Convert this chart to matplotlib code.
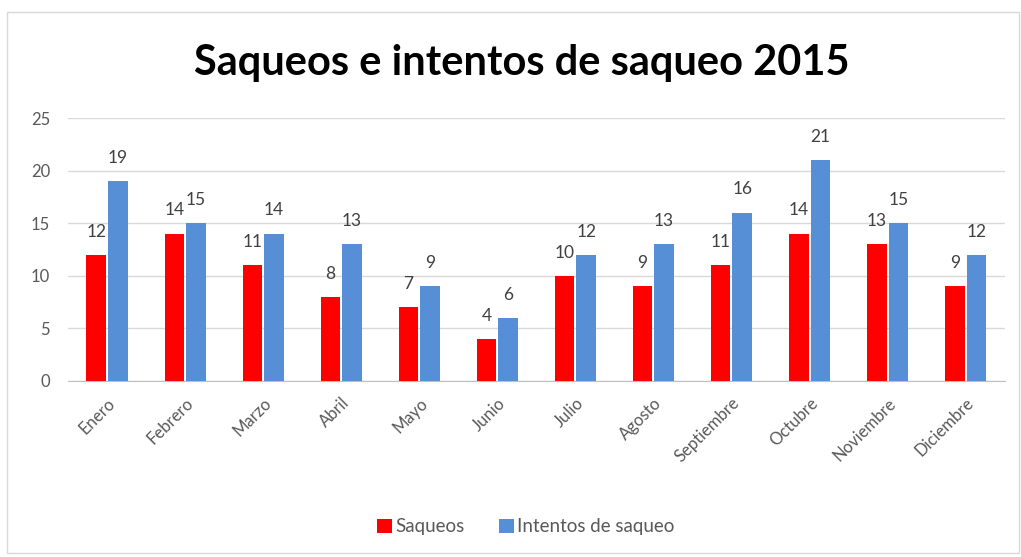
import numpy as np
from matplotlib import pyplot as plt
from matplotlib.patches import Rectangle

meses = ['Enero', 'Febrero', 'Marzo', 'Abril', 'Mayo', 'Junio', 'Julio',
         'Agosto', 'Septiembre', 'Octubre', 'Noviembre', 'Diciembre']
saqueos = [12, 14, 11, 8, 7, 4, 10, 9, 11, 14, 13, 9]
intentos = [19, 15, 14, 13, 9, 6, 12, 13, 16, 21, 15, 12]

rojo = '#FF0000'
azul = '#568FD6'
gris = '#595959'

plt.rcParams['font.family'] = ['Lato', 'DejaVu Sans']

fig = plt.figure(figsize=(10.21, 5.57), dpi=100)
ax = fig.add_axes([0.0666, 0.316, 0.9174, 0.472])

# chart border
fig.patches.append(Rectangle((7/1021, 4/557), 1012/1021, 541/557, transform=fig.transFigure,
                             fill=False, edgecolor='#D9D9D9', linewidth=1))

x = np.arange(len(meses))
w = 0.25
off = 0.138
b1 = ax.bar(x - off, saqueos, w, color=rojo, zorder=3)
b2 = ax.bar(x + off, intentos, w, color=azul, zorder=3)

for bars in (b1, b2):
    for b in bars:
        ax.annotate(str(int(b.get_height())), (b.get_x() + b.get_width()/2, b.get_height()),
                    xytext=(0, 11), textcoords='offset points', ha='center', va='bottom',
                    fontsize=12.5, color='#404040')

ax.set_xlim(-0.5, len(meses) - 0.5)
ax.set_ylim(0, 25)
ax.set_yticks([0, 5, 10, 15, 20, 25])
ax.yaxis.grid(True, color='#D9D9D9', linewidth=1, zorder=0)
for s in ['top', 'right', 'left']:
    ax.spines[s].set_visible(False)
ax.spines['bottom'].set_color('#BFBFBF')
ax.tick_params(axis='both', length=0, colors=gris, labelsize=12)
ax.tick_params(axis='y', pad=13)
ax.set_xticks(x)
ax.set_xticklabels(meses, rotation=45, ha='right', rotation_mode='anchor')
ax.tick_params(axis='x', pad=10)

fig.text(0.511, 0.886, 'Saqueos e intentos de saqueo 2015', ha='center', va='center',
         fontsize=30, fontweight='bold', color='black')

ax.legend([b1, b2], ['Saqueos', 'Intentos de saqueo'], loc='center',
          bbox_to_anchor=(0.515, 0.054), bbox_transform=fig.transFigure, ncol=2,
          frameon=False, fontsize=13.5, handlelength=0.8, handleheight=0.8,
          handletextpad=0.2, columnspacing=1.8, labelcolor=gris)

fig.savefig('out.png', dpi=100)
